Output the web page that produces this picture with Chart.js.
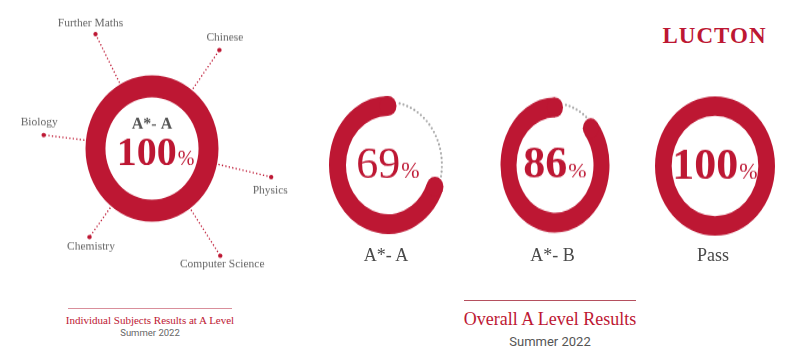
<!DOCTYPE html>
<html>
<head>
<meta charset="utf-8">
<script src="https://cdn.jsdelivr.net/npm/chart.js@4.4.0/dist/chart.umd.min.js"></script>
<style>
  html, body { margin: 0; padding: 0; background: #fff; }
  body { position: relative; width: 800px; height: 354px; overflow: hidden; font-family: "Liberation Serif", serif; }
  .box { position: absolute; }
  .box canvas { display: block; }
  .t { position: absolute; white-space: nowrap; transform: translate(-50%, -50%); line-height: 1; }
  .rule { position: absolute; height: 1px; }
</style>
</head>
<body>
<div class="t" style="left:714.5px;top:34.5px;font-size:23px;font-weight:bold;letter-spacing:1px;color:#bd1733">LUCTON</div>

<div class="box" id="bigBox" style="left:1.5px;top:0;width:300px;height:270px;transform-origin:0 0;transform:scaleY(1.1)">
  <canvas id="big" width="300" height="270"></canvas>
</div>

<div class="rule" style="left:68px;top:308px;width:164px;background:#d98f9b"></div>
<div class="t" style="left:150px;top:320px;font-size:11px;color:#bd1733">Individual Subjects Results at A Level</div>
<div class="t" style="left:150px;top:333px;font-size:9.5px;font-family:Roboto,sans-serif;color:#666">Summer 2022</div>

<div class="rule" style="left:464px;top:300px;width:172px;background:#b5505f"></div>
<div class="t" style="left:550px;top:319px;font-size:18px;color:#bd1733">Overall A Level Results</div>
<div class="t" style="left:550px;top:341px;font-size:13px;font-family:Roboto,sans-serif;color:#555">Summer 2022</div>

<script>
// data
const subjects = ["Chinese", "Physics", "Computer Science", "Chemistry", "Biology", "Further Maths"];
const subjectGrade = "A*- A";
const subjectValue = 100;

const overallGrades = ["A*- A", "A*- B", "Pass"];
const overallValues = [69, 86, 100];

// layout
const RED = "#bd1733";
const callouts = [
  { angle: 37, dist: 112, dx: 5.5, dy: -12 },
  { angle: 102.3, dist: 122, dx: -1, dy: 14 },
  { angle: 145, dist: 119, dx: 2, dy: 9 },
  { angle: 217.8, dist: 102, dx: 1.5, dy: 9 },
  { angle: 276.5, dist: 109, dx: -4.5, dy: -13 },
  { angle: 331.5, dist: 118.4, dx: -5, dy: -11 }
];
const bigSy = 1.1;
const rings = [
  { cx: 388, cy: 165, r: 59, cut: "71.2%", sy: 1.17, weight: "normal", size: 44 },
  { cx: 554.5, cy: 164.5, r: 54.5, cut: "70.6%", sy: 1.24, weight: "bold", size: 44 },
  { cx: 715, cy: 165.5, r: 60, cut: "72.2%", sy: 1.16, weight: "bold", size: 44 }
];

// number + small "%" centred on x, sharing a baseline
function drawPercent(ctx, value, x, base, numFont, pctFont) {
  ctx.font = numFont;
  const w1 = ctx.measureText(String(value)).width;
  ctx.font = pctFont;
  const w2 = ctx.measureText("%").width;
  const left = x - (w1 + w2 + 1) / 2;
  ctx.textAlign = "left";
  ctx.textBaseline = "alphabetic";
  ctx.fillStyle = RED;
  ctx.font = numFont;
  ctx.fillText(String(value), left, base);
  ctx.font = pctFont;
  ctx.fillText("%", left + w1 + 1, base);
}

const calloutPlugin = {
  id: "callouts",
  beforeDatasetsDraw(chart) {
    const arc = chart.getDatasetMeta(0).data[0];
    const ctx = chart.ctx;
    ctx.save();
    ctx.strokeStyle = RED;
    ctx.lineWidth = 1.3;
    ctx.setLineDash([1.3, 2.2]);
    callouts.forEach(c => {
      const a = (c.angle - 90) * Math.PI / 180;
      ctx.beginPath();
      ctx.moveTo(arc.x + (arc.outerRadius - 2) * Math.cos(a), arc.y + (arc.outerRadius - 2) * Math.sin(a));
      ctx.lineTo(arc.x + c.dist * Math.cos(a), arc.y + c.dist * Math.sin(a));
      ctx.stroke();
    });
    ctx.restore();
  },
  afterDatasetsDraw(chart) {
    const arc = chart.getDatasetMeta(0).data[0];
    const ctx = chart.ctx;
    ctx.save();
    subjects.forEach((name, i) => {
      const c = callouts[i];
      const a = (c.angle - 90) * Math.PI / 180;
      const px = arc.x + c.dist * Math.cos(a);
      const py = arc.y + c.dist * Math.sin(a);
      ctx.fillStyle = RED;
      ctx.beginPath();
      ctx.ellipse(px, py, 2.2, 2.2 / bigSy, 0, 0, Math.PI * 2);
      ctx.fill();
      ctx.save();
      ctx.translate(px, py);
      ctx.scale(1, 1 / bigSy);
      ctx.fillStyle = "#666";
      ctx.font = "11.5px 'Liberation Serif'";
      ctx.textAlign = "center";
      ctx.textBaseline = "middle";
      ctx.fillText(name, c.dx, c.dy);
      ctx.restore();
    });
    ctx.translate(arc.x, arc.y);
    ctx.scale(1, 1 / bigSy);
    ctx.fillStyle = "#555";
    ctx.font = "bold 16px 'Liberation Serif'";
    ctx.textAlign = "center";
    ctx.textBaseline = "alphabetic";
    ctx.fillText(subjectGrade, 0, -19.5);
    drawPercent(ctx, subjectValue, 3.5, 16.5, "bold 40px 'Liberation Serif'", "20px 'Liberation Serif'");
    ctx.restore();
  }
};

new Chart(document.getElementById("big"), {
  type: "doughnut",
  data: {
    labels: [subjectGrade],
    datasets: [{ data: [subjectValue], backgroundColor: [RED], borderWidth: 0, radius: 66.5, cutout: "70%" }]
  },
  options: {
    responsive: false,
    animation: false,
    events: [],
    radius: 66.5,
    cutout: "70%",
    plugins: { legend: { display: false }, tooltip: { enabled: false } }
  },
  plugins: [calloutPlugin]
});

const ringPlugin = {
  id: "ringDeco",
  afterDatasetsDraw(chart, args, opts) {
    const ctx = chart.ctx;
    const [gap, fill] = chart.getDatasetMeta(0).data;
    const thick = fill.outerRadius - fill.innerRadius;
    const mid = fill.innerRadius + thick / 2;
    ctx.save();
    if (gap.endAngle - gap.startAngle > 0.001) {
      // rounded ends on the red arc
      ctx.fillStyle = RED;
      [fill.startAngle, fill.endAngle].forEach(a => {
        ctx.beginPath();
        ctx.arc(fill.x + mid * Math.cos(a), fill.y + mid * Math.sin(a), thick / 2, 0, Math.PI * 2);
        ctx.fill();
      });
      // dotted remainder
      const rDot = fill.innerRadius + thick * 0.7;
      const capA = (thick / 2) / mid;
      const a0 = gap.startAngle + capA + 0.05;
      const a1 = gap.endAngle - capA - 0.03;
      const n = Math.max(1, Math.round((a1 - a0) * rDot / 4));
      ctx.fillStyle = "#a9a9a9";
      for (let i = 0; i <= n; i++) {
        const a = a0 + (a1 - a0) * i / n;
        ctx.beginPath();
        ctx.arc(fill.x + rDot * Math.cos(a), fill.y + rDot * Math.sin(a), 1.1, 0, Math.PI * 2);
        ctx.fill();
      }
    }
    ctx.translate(fill.x, fill.y);
    ctx.scale(1, 1 / opts.sy);
    drawPercent(ctx, opts.value, 0, 13, opts.weight + " " + opts.size + "px 'Liberation Serif'", "22px 'Liberation Serif'");
    ctx.restore();
  }
};

overallValues.forEach((v, i) => {
  const g = rings[i];
  const box = document.createElement("div");
  box.className = "box";
  box.style.cssText = `left:${g.cx - 70}px;top:${g.cy - 70}px;width:140px;height:140px;transform-origin:50% 50%;transform:scaleY(${g.sy})`;
  const cv = document.createElement("canvas");
  cv.width = 140;
  cv.height = 140;
  box.appendChild(cv);
  document.body.appendChild(box);

  const lab = document.createElement("div");
  lab.className = "t";
  lab.style.cssText = `left:${g.cx - 2}px;top:255px;font-size:18px;color:#4a4a4a`;
  lab.textContent = overallGrades[i];
  document.body.appendChild(lab);

  new Chart(cv, {
    type: "doughnut",
    data: {
      labels: ["Rest", overallGrades[i]],
      datasets: [{
        data: [100 - v, v],
        backgroundColor: ["rgba(0,0,0,0)", RED],
        borderWidth: 0,
        radius: g.r,
        cutout: g.cut
      }]
    },
    options: {
      responsive: false,
      animation: false,
      events: [],
      radius: g.r,
      cutout: g.cut,
      plugins: {
        legend: { display: false },
        tooltip: { enabled: false },
        ringDeco: { sy: g.sy, value: v, weight: g.weight, size: g.size }
      }
    },
    plugins: [ringPlugin]
  });
});
</script>
</body>
</html>
